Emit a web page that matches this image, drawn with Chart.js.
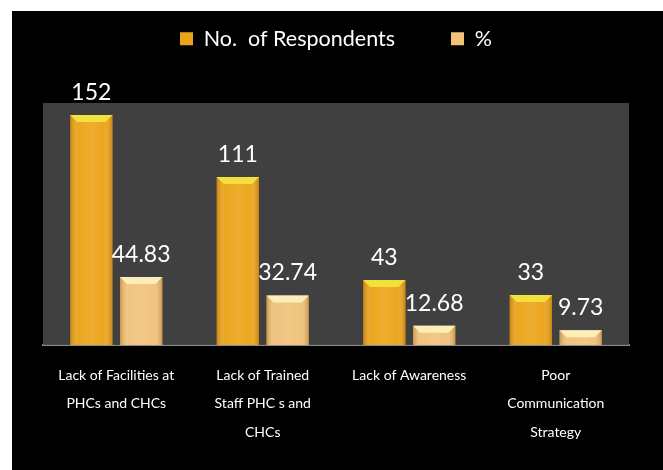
<!DOCTYPE html>
<html>
<head>
<meta charset="utf-8">
<script src="https://cdn.jsdelivr.net/npm/chart.js@4.4.0/dist/chart.umd.min.js"></script>
<style>
  html, body { margin: 0; padding: 0; background: #fff; }
  #wrap { position: absolute; left: 12px; top: 11px; width: 651px; height: 459px; background: #000; }
</style>
</head>
<body>
<div id="wrap"><canvas id="chart" width="651" height="459"></canvas></div>
<script>
var categories = [
  ['Lack of Facilities at', 'PHCs and CHCs'],
  ['Lack of Trained', 'Staff PHC s and', 'CHCs'],
  'Lack of Awareness',
  ['Poor', 'Communication', 'Strategy']
];
var respondents = [152, 111, 43, 33];
var percent = [44.83, 32.74, 12.68, 9.73];
var seriesNames = ['No.  of Respondents', '%'];

var fontName = 'Lato, "Open Sans", sans-serif';

// grey plot background
var plotBg = {
  id: 'plotBg',
  beforeDatasetsDraw: function(chart) {
    var a = chart.chartArea;
    var ctx = chart.ctx;
    ctx.save();
    ctx.fillStyle = '#404040';
    ctx.fillRect(a.left, a.top, a.right - a.left, a.bottom - a.top);
    ctx.restore();
  }
};

// leave room between legend and plot
var legendGap = {
  id: 'legendGap',
  beforeInit: function(chart) {
    var fit = chart.legend.fit;
    chart.legend.fit = function() {
      fit.call(this);
      this.height = 131;
    };
  }
};

// shading + top bevel on each bar, then the value labels
var barLook = {
  id: 'barLook',
  afterDatasetsDraw: function(chart) {
    var ctx = chart.ctx;
    chart.data.datasets.forEach(function(ds, i) {
      var meta = chart.getDatasetMeta(i);
      meta.data.forEach(function(bar, j) {
        var l = bar.x - bar.width / 2, r = bar.x + bar.width / 2;
        var t = bar.y, b = bar.base;
        ctx.save();
        var g = ctx.createLinearGradient(l, 0, r, 0);
        g.addColorStop(0, 'rgba(140,80,0,0.4)');
        g.addColorStop(0.2, 'rgba(255,255,255,0.03)');
        g.addColorStop(0.5, 'rgba(255,255,255,0.1)');
        g.addColorStop(0.8, 'rgba(255,255,255,0.03)');
        g.addColorStop(1, 'rgba(140,80,0,0.4)');
        ctx.fillStyle = g;
        ctx.fillRect(l, t, r - l, b - t);
        // bevel
        var bv = 7;
        ctx.fillStyle = i === 0 ? '#f3e03c' : '#fbeebb';
        ctx.beginPath();
        ctx.moveTo(l, t);
        ctx.lineTo(r, t);
        ctx.lineTo(r - bv, t + bv);
        ctx.lineTo(l + bv, t + bv);
        ctx.closePath();
        ctx.fill();
        ctx.restore();

        ctx.save();
        ctx.fillStyle = '#ffffff';
        ctx.font = '23px ' + fontName;
        ctx.textAlign = 'center';
        ctx.textBaseline = 'bottom';
        ctx.fillText(String(ds.data[j]), bar.x, t - 11);
        ctx.restore();
      });
    });
  }
};

new Chart(document.getElementById('chart'), {
  type: 'bar',
  data: {
    labels: categories,
    datasets: [
      { label: seriesNames[0], data: respondents, backgroundColor: '#eba418', borderWidth: 0 },
      { label: seriesNames[1], data: percent, backgroundColor: '#f0c27a', borderWidth: 0 }
    ]
  },
  options: {
    responsive: false,
    animation: false,
    categoryPercentage: 0.68,
    barPercentage: 0.85,
    layout: { padding: { left: 31, right: 34, top: -39, bottom: 15 } },
    plugins: {
      legend: {
        position: 'top',
        labels: {
          color: '#ffffff',
          font: { family: fontName, size: 21.5 },
          boxWidth: 13,
          boxHeight: 13,
          padding: 56
        }
      },
      tooltip: { enabled: false }
    },
    scales: {
      x: {
        grid: { display: false },
        border: { color: '#8a8a8a', width: 2 },
        ticks: {
          color: '#ffffff',
          font: { family: fontName, size: 14, lineHeight: 2.05 },
          maxRotation: 0,
          autoSkip: false,
          padding: 8
        }
      },
      y: {
        display: false,
        min: 0,
        max: 160
      }
    }
  },
  plugins: [plotBg, legendGap, barLook]
});
</script>
</body>
</html>
